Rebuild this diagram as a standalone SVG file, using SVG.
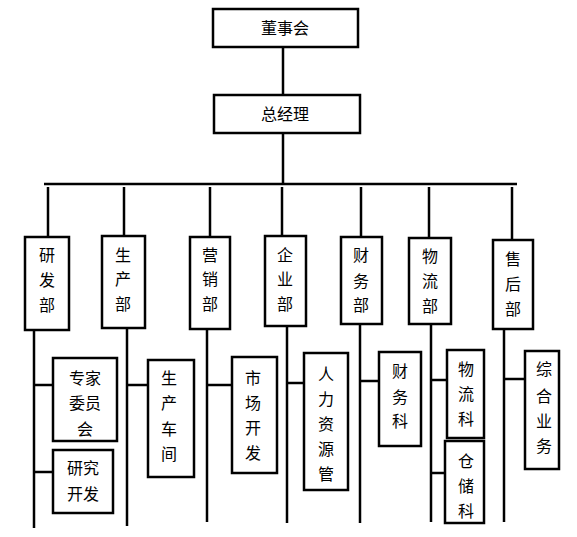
<svg xmlns="http://www.w3.org/2000/svg" width="577" height="537" viewBox="0 0 577 537">
<style>
rect{fill:#fff;stroke:#000;stroke-width:2.5}
line{stroke:#000;stroke-width:2.5}
text{font-family:"Noto Sans CJK SC","Noto Sans CJK JP",sans-serif;font-size:16px;fill:#000;text-anchor:middle;dominant-baseline:central}
</style>
<rect x="0" y="0" width="577" height="537" style="fill:#fff;stroke:none"/>
<g id="connectors">
<line x1="283" y1="47" x2="283" y2="95"/>
<line x1="283" y1="134" x2="283" y2="184"/>
<line x1="44" y1="184" x2="517" y2="184"/>
<line x1="48" y1="187" x2="48" y2="237"/>
<line x1="124" y1="187" x2="124" y2="236"/>
<line x1="210" y1="187" x2="210" y2="237"/>
<line x1="282" y1="187" x2="282" y2="236"/>
<line x1="361" y1="187" x2="361" y2="237"/>
<line x1="429" y1="187" x2="429" y2="238"/>
<line x1="512" y1="187" x2="512" y2="240"/>
<line x1="34" y1="331" x2="34" y2="528"/>
<line x1="34" y1="385" x2="53" y2="385"/>
<line x1="34" y1="472" x2="53" y2="472"/>
<line x1="127" y1="328" x2="127" y2="526"/>
<line x1="127" y1="385" x2="148" y2="385"/>
<line x1="207" y1="329" x2="207" y2="522"/>
<line x1="207" y1="385" x2="232" y2="385"/>
<line x1="287" y1="326" x2="287" y2="523"/>
<line x1="287" y1="383" x2="304" y2="383"/>
<line x1="360" y1="324" x2="360" y2="523"/>
<line x1="360" y1="381" x2="379" y2="381"/>
<line x1="431" y1="324" x2="431" y2="522"/>
<line x1="431" y1="380" x2="447" y2="380"/>
<line x1="431" y1="473" x2="445" y2="473"/>
<line x1="504" y1="329" x2="504" y2="522"/>
<line x1="504" y1="379" x2="525" y2="379"/>
</g>
<g id="n-dongshihui"><rect x="213" y="9" width="145" height="38"/><text x="285" y="27">董事会</text></g>
<g id="n-zongjingli"><rect x="214" y="95" width="146" height="38"/><text x="285" y="113">总经理</text></g>
<g id="n-yanfabu"><rect x="25" y="237" width="44" height="93"/><text x="47" y="254">研</text><text x="47" y="279">发</text><text x="47" y="304">部</text></g>
<g id="n-shengchanbu"><rect x="102" y="236" width="43" height="92"/><text x="123" y="254">生</text><text x="123" y="278">产</text><text x="123" y="303">部</text></g>
<g id="n-yingxiaobu"><rect x="190" y="237" width="40" height="92"/><text x="210" y="254">营</text><text x="210" y="278">销</text><text x="210" y="303">部</text></g>
<g id="n-qiyebu"><rect x="265" y="236" width="41" height="90"/><text x="285" y="254">企</text><text x="285" y="278">业</text><text x="285" y="303">部</text></g>
<g id="n-caiwubu"><rect x="341" y="237" width="41" height="87"/><text x="361" y="254">财</text><text x="361" y="280">务</text><text x="361" y="304">部</text></g>
<g id="n-wuliubu"><rect x="409" y="238" width="42" height="86"/><text x="430" y="255">物</text><text x="430" y="280">流</text><text x="430" y="305">部</text></g>
<g id="n-shouhoubu"><rect x="493" y="240" width="40" height="89"/><text x="513" y="258">售</text><text x="513" y="283">后</text><text x="513" y="308">部</text></g>
<g id="n-zhuanjia"><rect x="53" y="358" width="64" height="83"/><text x="85" y="377">专家</text><text x="85" y="402">委员</text><text x="85" y="428">会</text></g>
<g id="n-yanjiu"><rect x="53" y="450" width="60" height="63"/><text x="83" y="467">研究</text><text x="83" y="493">开发</text></g>
<g id="n-chejian"><rect x="148" y="360" width="46" height="117"/><text x="169" y="377">生</text><text x="169" y="402">产</text><text x="169" y="428">车</text><text x="169" y="453">间</text></g>
<g id="n-shichang"><rect x="232" y="357" width="45" height="116"/><text x="253" y="377">市</text><text x="253" y="402">场</text><text x="253" y="427">开</text><text x="253" y="452">发</text></g>
<g id="n-renli"><rect x="304" y="353" width="44" height="137"/><text x="326" y="373">人</text><text x="326" y="398">力</text><text x="326" y="423">资</text><text x="326" y="448">源</text><text x="326" y="473">管</text></g>
<g id="n-caiwuke"><rect x="379" y="352" width="42" height="94"/><text x="400" y="370">财</text><text x="400" y="396">务</text><text x="400" y="420">科</text></g>
<g id="n-wuliuke"><rect x="447" y="350" width="37" height="88"/><text x="466" y="368">物</text><text x="466" y="393">流</text><text x="466" y="418">科</text></g>
<g id="n-cangchu"><rect x="445" y="441" width="39" height="82"/><text x="466" y="460">仓</text><text x="466" y="485">储</text><text x="466" y="510">科</text></g>
<g id="n-zonghe"><rect x="525" y="351" width="34" height="118"/><text x="544" y="368">综</text><text x="544" y="395">合</text><text x="544" y="420">业</text><text x="544" y="445">务</text></g>
</svg>
